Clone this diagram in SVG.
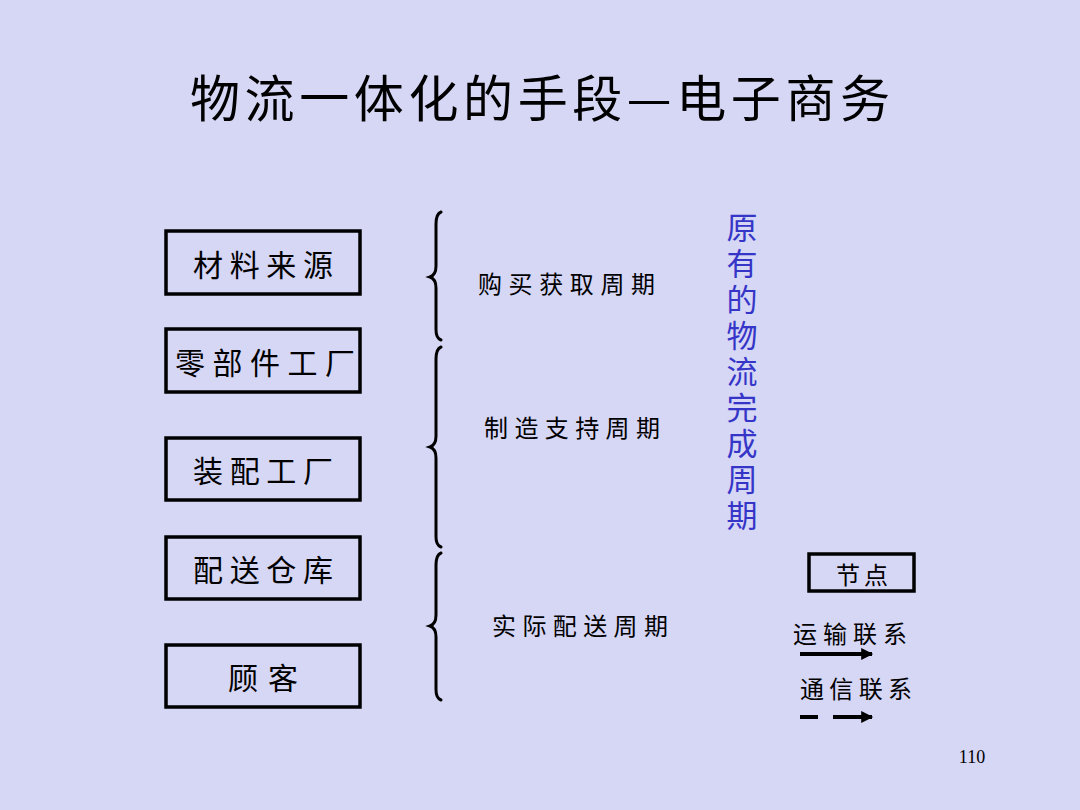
<svg xmlns="http://www.w3.org/2000/svg" width="1080" height="810" viewBox="0 0 1080 810">
<defs>
<style>
.cjk{font-family:"Noto Sans CJK SC","Noto Sans",sans-serif;fill:#000}
.box{fill:none;stroke:#000;stroke-width:3.5}
.lbl{font-size:30px;text-anchor:middle;dominant-baseline:central}
.cyc{font-size:24px;dominant-baseline:central}
.brace{fill:none;stroke:#000;stroke-width:3;stroke-linecap:round}
</style>
<marker id="ah" viewBox="0 0 10 10" refX="9" refY="5" markerWidth="4" markerHeight="3" markerUnits="strokeWidth" orient="auto"><path d="M0,0 L10,5 L0,10 z" fill="#000"/></marker>
</defs>
<rect width="1080" height="810" fill="#D6D6F5"/>
<text class="cjk" x="540" y="95" font-size="50" text-anchor="middle" dominant-baseline="central" textLength="700" lengthAdjust="spacing">物流一体化的手段—电子商务</text>

<g id="n1"><rect class="box" x="166" y="231" width="194" height="63"/><text class="cjk lbl" x="263" y="263" textLength="140" lengthAdjust="spacing">材料来源</text></g>
<g id="n2"><rect class="box" x="166" y="329" width="194" height="63"/><text class="cjk lbl" x="265" y="361" textLength="180" lengthAdjust="spacing">零部件工厂</text></g>
<g id="n3"><rect class="box" x="166" y="438" width="194" height="62"/><text class="cjk lbl" x="263" y="469" textLength="140" lengthAdjust="spacing">装配工厂</text></g>
<g id="n4"><rect class="box" x="166" y="537" width="194" height="62"/><text class="cjk lbl" x="263" y="568" textLength="140" lengthAdjust="spacing">配送仓库</text></g>
<g id="n5"><rect class="box" x="166" y="645" width="194" height="62"/><text class="cjk lbl" x="263" y="676" textLength="70" lengthAdjust="spacing">顾客</text></g>

<g id="braces">
<path class="brace" d="M441,212 Q436,214 436,224 L436,266 Q436,275 430,277 Q436,279 436,288 L436,330 Q436,338 441,340"/>
<path class="brace" d="M441,347 Q436,349 436,359 L436,436 Q436,445 430,447 Q436,449 436,458 L436,537 Q436,545 441,547"/>
<path class="brace" d="M441,553 Q436,555 436,565 L436,615 Q436,624 430,626 Q436,628 436,637 L436,690 Q436,698 441,700"/>
</g>

<g id="cycles">
<text class="cjk cyc" x="478" y="282" textLength="177" lengthAdjust="spacing">购买获取周期</text>
<text class="cjk cyc" x="484" y="426" textLength="176" lengthAdjust="spacing">制造支持周期</text>
<text class="cjk cyc" x="492" y="624" textLength="176" lengthAdjust="spacing">实际配送周期</text>
</g>

<g id="vertical">
<text class="cjk" x="742" y="212" font-size="31" style="fill:#3535C8;writing-mode:vertical-rl;letter-spacing:5px">原有的物流完成周期</text>
</g>

<g id="legend-node"><rect class="box" x="809" y="554" width="105" height="37"/><text class="cjk" x="862" y="573" font-size="24" text-anchor="middle" dominant-baseline="central" textLength="52" lengthAdjust="spacing">节点</text></g>

<g id="connectors">
<line x1="800" y1="654" x2="872" y2="654" stroke="#000" stroke-width="4" marker-end="url(#ah)"/>
<line x1="800" y1="717" x2="818" y2="717" stroke="#000" stroke-width="4"/>
<line x1="833" y1="717" x2="872" y2="717" stroke="#000" stroke-width="4" marker-end="url(#ah)"/>
</g>
<text class="cjk" x="793" y="632" font-size="24" dominant-baseline="central" textLength="114" lengthAdjust="spacing">运输联系</text>
<text class="cjk" x="800" y="687" font-size="24" dominant-baseline="central" textLength="112" lengthAdjust="spacing">通信联系</text>

<text x="972" y="757" font-family="Liberation Serif,serif" font-size="18" text-anchor="middle" dominant-baseline="central" fill="#000">110</text>
</svg>
